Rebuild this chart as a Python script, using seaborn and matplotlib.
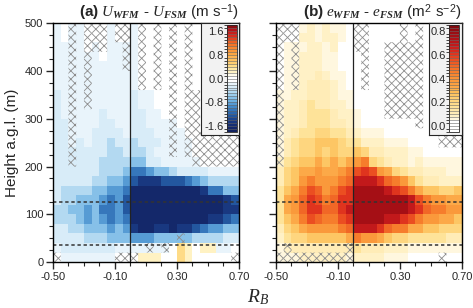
import numpy as np
import pandas as pd
import matplotlib
matplotlib.use("Agg")
import matplotlib.pyplot as plt
from matplotlib.colors import LinearSegmentedColormap, ListedColormap, BoundaryNorm
import seaborn as sns

sns.set_style("ticks")
plt.rcParams.update({
    "font.family": "Liberation Sans",
    "mathtext.fontset": "custom",
    "mathtext.rm": "Liberation Sans",
    "mathtext.it": "Liberation Serif:italic",
    "mathtext.bf": "Liberation Sans:bold",
    "mathtext.bfit": "Liberation Serif:italic:bold",
    "hatch.linewidth": 0.6,
})

# bins: R_B columns (0.05 wide) and height rows (20 m), top row first
rb_edges = np.round(np.linspace(-0.50, 0.70, 25), 2)
z_edges = np.linspace(500, 0, 26)
rb_mid = np.round((rb_edges[:-1] + rb_edges[1:]) / 2, 3)
z_mid = (z_edges[:-1] + z_edges[1:]) / 2

# (a) U_WFM - U_FSM, one code per cell (m/s)
du_code = {"0": 0.0, "1": -0.15, "2": -0.25, "3": -0.45, "4": -0.65,
           "5": -0.85, "6": -1.05, "7": -1.25, "8": -1.45, "9": -1.7,
           "p": 0.25, "q": 0.45}
du_rows = [
    "101100010010000000000000",
    "101100010010000000000000",
    "111101011110000000000000",
    "111111011110000000000000",
    "111111111110000000000000",
    "111111111110000000000000",
    "111111111110000000000000",
    "211111111121100000000000",
    "211111111121100000000000",
    "211111211122110000000000",
    "221111221122111100000000",
    "221112222122211110000000",
    "221212232232221111000000",
    "222222233233211111000000",
    "222222333344221111100000",
    "222222333466544322221111",
    "222223344578887776543333",
    "233334455699999999986644",
    "233444565799999999999987",
    "334454665799999999999988",
    "333454565699999999998876",
    "223344454589988988765544",
    "222233344455544444333322",
    "1222222211111110qp0pp110",
    "01111111000ppp00qp000000",
]
# cells without significance (cross hatched)
du_hatch = [
    "..x.xxx.xx.x.x.x.x......",
    "..x.xxx.xx.x.x.x.x......",
    "..x.xxx..x.x.x.x.x......",
    "..x.x....x.x.x.x.x......",
    "..x.x....x.x.x.x.x......",
    "..x.x......x.x.x.x......",
    "..x.x......x.x.x.x......",
    "..x.x..........x.xx.....",
    "..x.x..........x.xx.....",
    "..x............x.xx.....",
    "..x............x.xx.....",
    "..x............x.xxxxxxx",
    "..x............x.xxxxxxx",
    "..x............x.xxxxxxx",
    "..x...............xxxxxx",
    "........................",
    "........................",
    "........................",
    "........................",
    "........................",
    "........................",
    "........................",
    "................x.......",
    "............x.x.........",
    "x.......xxx............x",
]

# (b) e_WFM - e_FSM (m2/s2)
de_code = {"0": 0.0, "1": 0.055, "2": 0.08, "3": 0.12, "4": 0.17, "5": 0.22,
           "6": 0.27, "7": 0.33, "8": 0.39, "9": 0.45, "a": 0.5, "b": 0.56,
           "c": 0.62, "d": 0.68, "e": 0.75}
de_rows = [
    "000121211000000000000000",
    "000221221000000000000000",
    "011122120000000000000000",
    "011222110000000000000000",
    "011222110000000000000000",
    "011223211000000000000000",
    "011233321000000000000000",
    "112233321100000000000000",
    "122343322100000000000000",
    "122344432210000000000000",
    "122344433210000000000000",
    "123445544321110000000000",
    "134556665442221110000000",
    "134556565565332221100000",
    "245667676789543221211111",
    "3567787789bcb87543322211",
    "356898889adddca986433222",
    "4679ba89bceeeedcb9766556",
    "478acb9acceeeeeeedb98877",
    "478accaacdeeeeeeedca9988",
    "4679ba99bceeeeddcb988776",
    "356788889adddca997766555",
    "245566666798876554444433",
    "123333333343332221111111",
    "111222222122221110000000",
]
de_hatch = [
    "xxx.......xx....x.x.....",
    "xxx.......xx....x.x.....",
    "x.x.......xx..xxxxx.....",
    "x.x........x..xxxxx.....",
    "x.x........x..xxxxx.....",
    "x.x........x..xxxxx.....",
    "x.x........x..xxxxx.....",
    "x.............xxxxx.....",
    "x.............xxxxx..xxx",
    "x.............xxxxx..xxx",
    "x.................x..xxx",
    "x....................xxx",
    "x....................xxx",
    "x.......................",
    "x.......................",
    "........................",
    "........................",
    "........................",
    "........................",
    "........................",
    "........................",
    "........................",
    "........................",
    ".x.......x..............",
    "xxxxxxxxxx...........x..",
]

du_anchors = [(-1.8, "#101f5c"), (-1.5, "#18337a"), (-1.3, "#1f4f98"), (-1.1, "#2f6fb5"),
              (-0.9, "#4b92cf"), (-0.7, "#7dbbe6"), (-0.5, "#a8d4ef"), (-0.3, "#d0e7f6"),
              (-0.15, "#e8f4fb"), (-0.1, "#ffffff"), (0.1, "#ffffff"), (0.2, "#fff6d2"),
              (0.4, "#fee394"), (0.6, "#fdc768"), (0.9, "#fba03e"), (1.2, "#f26c25"),
              (1.45, "#db2f1f"), (1.65, "#b8141a"), (1.8, "#7c0a0e")]
de_anchors = [(-0.05, "#ffffff"), (0.045, "#ffffff"), (0.06, "#fff8e2"), (0.09, "#fff0c4"),
              (0.16, "#fee39a"), (0.22, "#fed47a"), (0.28, "#fdbf5a"), (0.34, "#fca847"),
              (0.41, "#f99236"), (0.47, "#f57a2a"), (0.53, "#f06024"), (0.58, "#e8461f"),
              (0.62, "#dd301e"), (0.67, "#c91c1c"), (0.72, "#b51418"), (0.78, "#a00e14"),
              (0.85, "#7e080e")]


def boxed_cmap(anchors, levels):
    lo, hi = levels[0], levels[-1]
    lin = LinearSegmentedColormap.from_list("lin", [((v - lo) / (hi - lo), c) for v, c in anchors])
    centers = (levels[:-1] + levels[1:]) / 2
    cmap = ListedColormap(lin((centers - lo) / (hi - lo)))
    return cmap, BoundaryNorm(levels, cmap.N)


def xpos(v):
    return np.interp(v, rb_edges, np.arange(len(rb_edges)))


def ypos(h):
    return np.interp(h, z_edges[::-1], np.arange(len(z_edges))[::-1])


def draw_panel(ax, rows, code, hatch_rows, cmap, norm):
    df = pd.DataFrame([[code[ch] for ch in r] for r in rows], index=z_mid, columns=rb_mid)
    sns.heatmap(df, ax=ax, cmap=cmap, norm=norm, cbar=False,
                xticklabels=False, yticklabels=False)
    mask = np.array([[1.0 if ch == "x" else 0.0 for ch in r] for r in hatch_rows])
    ax.pcolor(np.arange(len(rb_edges)), np.arange(len(z_edges)), np.ma.masked_equal(mask, 0),
              facecolor="none", edgecolor="#8c8c8c", hatch="xxxx", linewidth=0)
    ax.set_xlim(0, len(rb_edges) - 1)
    ax.set_ylim(len(z_edges) - 1, 0)

    ax.axvline(xpos(0.0), color="#222222", lw=0.9)
    for h in (35, 125):
        ax.axhline(ypos(h), color="#333333", lw=1.1, ls=(0, (2.2, 1.8)))

    ax.set_xticks(xpos(np.array([-0.5, -0.1, 0.3, 0.7])))
    ax.set_xticklabels(["-0.50", "-0.10", "0.30", "0.70"], fontsize=8)
    ax.set_xticks(xpos(np.round(np.arange(-0.5, 0.71, 0.1), 2)), minor=True)
    ax.set_yticks(ypos(np.arange(0, 501, 100)))
    ax.set_yticks(ypos(np.arange(0, 501, 25)), minor=True)
    ax.tick_params(which="major", direction="out", length=5, width=1, labelsize=8, pad=2)
    ax.tick_params(which="minor", direction="out", length=3, width=0.8)
    ax.set_xlabel("")
    ax.set_ylabel("")
    for s in ax.spines.values():
        s.set_visible(True)
        s.set_linewidth(1.0)
        s.set_color("black")


def draw_cbar(fig, ax, box, strip, cmap, norm, ticks, labels):
    bax = ax.inset_axes(box)
    bax.set_facecolor("#f2f2f2")
    bax.set_xticks([])
    bax.set_yticks([])
    for s in bax.spines.values():
        s.set_linewidth(0.8)
    cax = ax.inset_axes(strip)
    sm = plt.cm.ScalarMappable(norm=norm, cmap=cmap)
    cb = fig.colorbar(sm, cax=cax, ticks=ticks, drawedges=True)
    cb.outline.set_linewidth(0.6)
    cb.dividers.set_color("#666666")
    cb.dividers.set_linewidth(0.4)
    cax.yaxis.set_ticks_position("left")
    cax.set_yticklabels(labels)
    cax.tick_params(length=0, labelsize=8, pad=2)


fig = plt.figure(figsize=(4.73, 3.08), dpi=100)
ax_a = fig.add_axes([0.112, 0.149, 0.393, 0.776])
ax_b = fig.add_axes([0.5835, 0.149, 0.393, 0.776])

cmap_a, norm_a = boxed_cmap(du_anchors, np.linspace(-1.8, 1.8, 37))
cmap_b, norm_b = boxed_cmap(de_anchors, np.linspace(-0.05, 0.85, 37))

draw_panel(ax_a, du_rows, du_code, du_hatch, cmap_a, norm_a)
draw_panel(ax_b, de_rows, de_code, de_hatch, cmap_b, norm_b)
ax_a.set_yticklabels(["0", "100", "200", "300", "400", "500"])
ax_b.set_yticklabels([])

draw_cbar(fig, ax_a, [0.796, 0.531, 0.204, 0.469], [0.935, 0.545, 0.054, 0.445],
          cmap_a, norm_a, [-1.6, -0.8, 0.0, 0.8, 1.6], ["-1.6", "-0.8", "0.0", "0.8", "1.6"])
draw_cbar(fig, ax_b, [0.823, 0.531, 0.177, 0.469], [0.93, 0.545, 0.054, 0.445],
          cmap_b, norm_b, [0.0, 0.2, 0.4, 0.6, 0.8], ["0.0", "0.2", "0.4", "0.6", "0.8"])

ax_a.set_title(r"$\mathbf{(a)}\ U_{\mathbfit{WFM}}$ - $U_{\mathbfit{FSM}}$ (m s$^{-1}$)",
               loc="right", fontsize=11, pad=4)
ax_b.set_title(r"$\mathbf{(b)}\ e_{\mathbfit{WFM}}$ - $e_{\mathbfit{FSM}}$ (m$^{2}$ s$^{-2}$)",
               loc="right", fontsize=11, pad=4)
ax_a.set_ylabel("Height a.g.l. (m)", fontsize=11, labelpad=4)
fig.text(0.545, 0.035, r"$R_B$", fontsize=14, ha="center", va="center")

fig.savefig("out.png", dpi=100)
